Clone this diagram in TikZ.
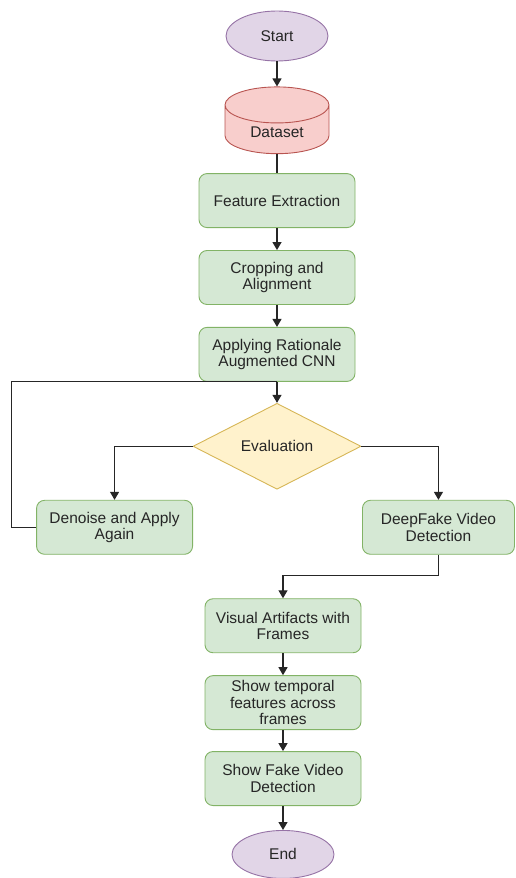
\documentclass[tikz,border=0pt]{standalone}
\usepackage{fontspec}
\setmainfont{Liberation Sans}
\usetikzlibrary{positioning, calc, arrows.meta, shapes.geometric}

\definecolor{procfill}{HTML}{D5E8D4}
\definecolor{procline}{HTML}{82B366}
\definecolor{termfill}{HTML}{E1D5E7}
\definecolor{termline}{HTML}{9673A6}
\definecolor{datafill}{HTML}{F8CECC}
\definecolor{dataline}{HTML}{B85450}
\definecolor{decfill}{HTML}{FFF2CC}
\definecolor{decline}{HTML}{D6B656}

\begin{document}
\begin{tikzpicture}[
  >={Triangle[length=8pt, width=9pt]}, line width=1.2pt, draw=black!85,
  every node/.style = {font=\fontsize{15.5}{16.5}\selectfont, align=center, text=black!85},
  process/.style  = {draw=procline, fill=procfill, line width=0.9pt, rounded corners=8pt,
                     minimum width=156pt, minimum height=54pt},
  terminal/.style = {draw=termline, fill=termfill, line width=0.9pt, ellipse,
                     minimum width=102pt, minimum height=50pt},
  database/.style = {draw=dataline, fill=datafill, line width=0.9pt, cylinder,
                     shape border rotate=90, aspect=0.6, inner ysep=3.9pt,
                     minimum width=104pt},
  decision/.style = {draw=decline, fill=decfill, line width=0.9pt, diamond, aspect=2,
                     inner sep=1pt, minimum width=168pt, minimum height=86pt},
]
  \useasboundingbox (0,0) rectangle (515pt,-878pt);

  % main column
  \node[terminal]                        (start)    at (277pt,-36pt) {Start};
  \node[database, below=25pt of start]   (dataset)  {Dataset};
  \node[process,  below=19pt of dataset] (feature)  {Feature Extraction};
  \node[process,  below=22pt of feature] (crop)     {Cropping and\\Alignment};
  \node[process,  below=22pt of crop]    (rcnn)     {Applying Rationale\\Augmented CNN};
  \node[decision, below=21pt of rcnn]    (eval)     {Evaluation};

  % the two outcomes
  \node[process]                      (denoise)  at ($(eval.west)+(-78pt,-81pt)$) {Denoise and Apply\\Again};
  \node[process, minimum width=152pt] (deepfake) at ($(eval.east)+(77pt,-81pt)$)  {DeepFake Video\\Detection};

  % lower column
  \node[process]                          (visual)   at ($(eval.south)+(6pt,-136pt)$) {Visual Artifacts with\\Frames};
  \node[process,  below=22pt of visual]   (temporal) {Show temporal\\features across\\frames};
  \node[process,  below=21pt of temporal] (showfake) {Show Fake Video\\Detection};
  \node[terminal, below=24pt of showfake, minimum height=48pt] (end) {End};

  \draw[->] (start)   -- (dataset);
  \draw     (dataset) -- (feature);
  \draw[->] (feature) -- (crop);
  \draw[->] (crop)    -- (rcnn);
  \draw[->] (rcnn)    -- (eval);

  \draw[->] (eval.west) -| (denoise.north);
  \draw[->] (eval.east) -| (deepfake.north);
  \draw     (denoise.west) -- ++(-25pt,0) |- (rcnn.south);

  \draw[->] (deepfake.south) -- ++(0,-21pt) -| (visual.north);
  \draw[->] (visual)   -- (temporal);
  \draw[->] (temporal) -- (showfake);
  \draw[->] (showfake) -- (end);
\end{tikzpicture}
\end{document}
